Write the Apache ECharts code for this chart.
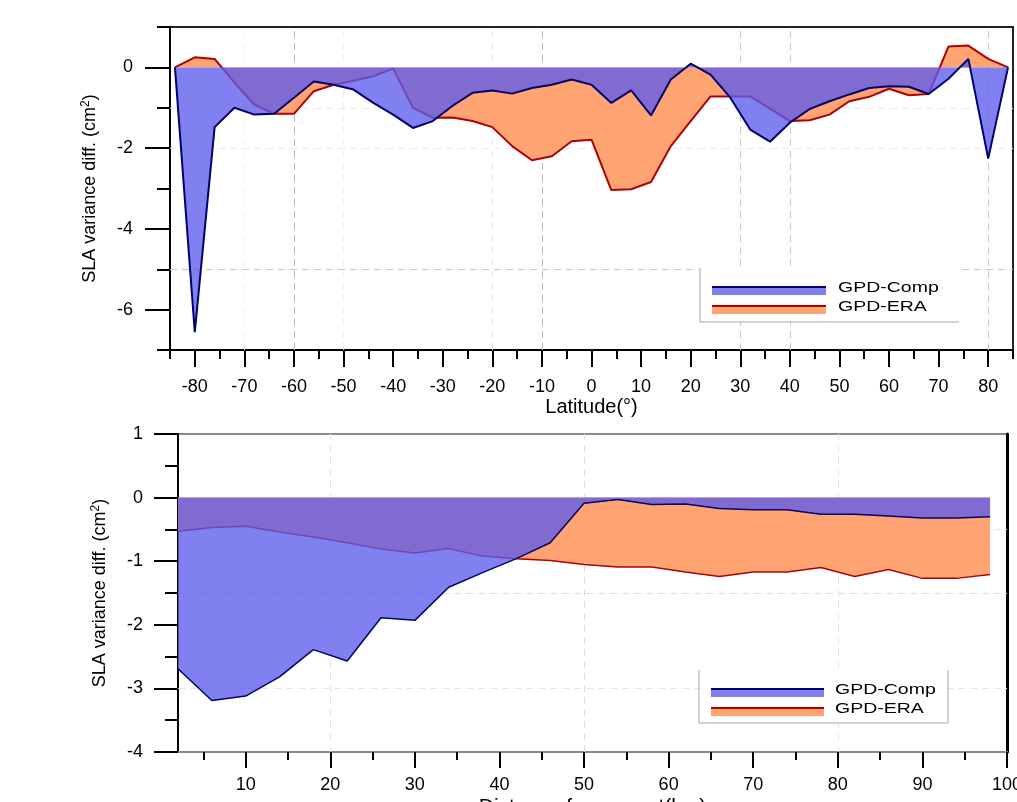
<!DOCTYPE html>
<html>
<head>
<meta charset="utf-8">
<title>SLA variance difference</title>
<script src="https://cdn.jsdelivr.net/npm/echarts@6.0.0/dist/echarts.min.js"></script>
<style>
  html, body { margin: 0; padding: 0; background: #fff; }
  #chart { width: 1017px; height: 802px; }
</style>
</head>
<body>
<div id="chart"></div>
<script>
// --- data ---
// top panel: latitude bins (deg)
const lat = [-84, -80, -76, -72, -68, -64, -60, -56, -52, -48, -44, -40, -36, -32, -28, -24, -20, -16, -12, -8, -4,
  0, 4, 8, 12, 16, 20, 24, 28, 32, 36, 40, 44, 48, 52, 56, 60, 64, 68, 72, 76, 80, 84];
const latComp = [0, -6.56, -1.48, -1.0, -1.17, -1.15, -0.75, -0.35, -0.43, -0.55, -0.88, -1.17, -1.5, -1.33, -0.95,
  -0.63, -0.57, -0.65, -0.51, -0.43, -0.30, -0.43, -0.88, -0.57, -1.19, -0.30, 0.09, -0.18, -0.75, -1.54, -1.84,
  -1.37, -1.03, -0.84, -0.67, -0.51, -0.47, -0.48, -0.66, -0.28, 0.21, -2.26, 0];
const latEra = [0, 0.25, 0.21, -0.38, -0.92, -1.15, -1.15, -0.59, -0.43, -0.33, -0.22, -0.03, -1.0, -1.25, -1.24,
  -1.33, -1.48, -1.95, -2.30, -2.20, -1.83, -1.79, -3.04, -3.02, -2.84, -1.95, -1.33, -0.72, -0.72, -0.72, -1.02,
  -1.33, -1.31, -1.17, -0.84, -0.73, -0.53, -0.69, -0.66, 0.52, 0.54, 0.21, 0];

// bottom panel: distance from coast (km)
const dist = [2, 6, 10, 14, 18, 22, 26, 30, 34, 38, 42, 46, 50, 54, 58, 62, 66, 70, 74, 78, 82, 86, 90, 94, 98];
const distComp = [-2.69, -3.19, -3.12, -2.82, -2.39, -2.57, -1.89, -1.93, -1.41, -1.18, -0.96, -0.71, -0.09, -0.03,
  -0.11, -0.10, -0.17, -0.19, -0.19, -0.26, -0.26, -0.29, -0.32, -0.32, -0.30];
const distEra = [-0.53, -0.47, -0.45, -0.54, -0.62, -0.71, -0.81, -0.87, -0.80, -0.92, -0.96, -0.99, -1.05, -1.09,
  -1.09, -1.17, -1.24, -1.17, -1.17, -1.10, -1.24, -1.13, -1.27, -1.27, -1.21];

// tick positions
const latMajorTicks = [-80, -70, -60, -50, -40, -30, -20, -10, 0, 10, 20, 30, 40, 50, 60, 70, 80];
const slaMajorTicksTop = [-6, -4, -2, 0];
const distMajorTicks = [10, 20, 30, 40, 50, 60, 70, 80, 90, 100];
const distMinorTicks = [5, 15, 25, 35, 45, 55, 65, 75, 85, 95];
const slaMajorTicksBottom = [-4, -3, -2, -1, 0, 1];

// dashed guide lines as they appear in the figure
const topGridX = [[-60, '#b8b8b8'], [-10, '#b8b8b8'], [30, '#c8c8c8'], [40, '#c8c8c8'], [80, '#c8c8c8'],
  [-70, '#efefef'], [-50, '#efefef'], [-20, '#e6e6e6']];
const topGridY = [[-5, '#c8c8c8'], [-1, '#ececec'], [-2, '#ececec']];
const botGridX = [[20, '#e2e2e2'], [50, '#dcdcdc'], [80, '#e2e2e2']];
const botGridY = [[-0.5, '#e6e6e6'], [-1.5, '#dcdcdc'], [-3, '#e6e6e6']];

const NAVY = '#00006e';
const RED = '#b00000';
const BLUE_FILL = 'rgba(92,92,236,0.78)';
const ORANGE_FILL = '#ffa472';
const FONT = "'Liberation Sans', Arial, sans-serif";

function pairs(xs, ys) { return xs.map(function (x, i) { return [x, ys[i]]; }); }

function guideSeries(xi, yi, gx, gy) {
  const lines = gx.map(function (g) { return { xAxis: g[0], lineStyle: { color: g[1] } }; })
    .concat(gy.map(function (g) { return { yAxis: g[0], lineStyle: { color: g[1] } }; }));
  return {
    type: 'line', xAxisIndex: xi, yAxisIndex: yi, data: [], z: 1, silent: true,
    markLine: {
      z: 1, silent: true, symbol: 'none', animation: false, label: { show: false },
      lineStyle: { type: [7, 5], width: 1 },
      data: lines
    }
  };
}

function areaSeries(xi, yi, data, lineColor, fill, w, z) {
  return {
    type: 'line', xAxisIndex: xi, yAxisIndex: yi, data: data, z: z,
    symbol: 'none', silent: true,
    lineStyle: { color: lineColor, width: w },
    areaStyle: { origin: 0, color: fill, opacity: 1 }
  };
}

// extra axes that only carry the long (major) ticks
function tickAxis(grid, pos, min, max, vals, len) {
  return {
    gridIndex: grid, type: 'value', position: pos, min: min, max: max,
    axisLine: { show: false, onZero: false },
    axisTick: { customValues: vals, length: len, lineStyle: { color: '#000', width: 2 } },
    axisLabel: { show: false }, splitLine: { show: false }
  };
}

// legend drawn by hand: line on top of a filled strip, like the original plot
function legendBox(x0, y0, x1, y1, border, sw0, sw1, rowY, textX) {
  const items = [
    { type: 'rect', z: 100, shape: { x: x0, y: y0, width: x1 - x0, height: y1 - y0 }, style: { fill: '#fff' } },
    { type: 'polyline', z: 101, shape: { points: border }, style: { stroke: '#a6a6a6', lineWidth: 1, fill: null } }
  ];
  [['GPD-Comp', NAVY, BLUE_FILL], ['GPD-ERA', RED, ORANGE_FILL]].forEach(function (e, i) {
    const y = rowY[i];
    items.push({ type: 'rect', z: 101, shape: { x: sw0, y: y, width: sw1 - sw0, height: 8 }, style: { fill: e[2] } });
    items.push({ type: 'line', z: 102, shape: { x1: sw0, y1: y, x2: sw1, y2: y }, style: { stroke: e[1], lineWidth: 2 } });
    items.push({ type: 'text', z: 102, x: textX, y: y + 1, scaleX: 1.3,
      style: { text: e[0], fontSize: 15, fontFamily: FONT, fill: '#000', verticalAlign: 'middle' } });
  });
  return items;
}

const sup = { sup: { fontSize: 12, verticalAlign: 'top', padding: [0, 0, 8, 0], fontFamily: FONT, color: '#000' } };
const yName = 'SLA variance diff. (cm{sup|2})';

const chart = echarts.init(document.getElementById('chart'), null, { renderer: 'canvas' });

chart.setOption({
  animation: false,
  backgroundColor: '#fff',
  textStyle: { fontFamily: FONT, color: '#000' },
  grid: [
    { left: 170, right: 4, top: 27, height: 323, outerBoundsMode: 'none', containLabel: false,
      show: true, borderColor: '#222', borderWidth: 2 },
    { left: 178, right: 10, top: 434, height: 318, outerBoundsMode: 'none', containLabel: false,
      show: true, borderColor: '#8a8a8a', borderWidth: 2 }
  ],
  xAxis: [
    {
      gridIndex: 0, type: 'value', position: 'bottom', min: -85, max: 85, interval: 5,
      axisLine: { onZero: false, lineStyle: { color: '#000', width: 2 } },
      axisTick: { length: 9, lineStyle: { color: '#000', width: 2 } },
      axisLabel: {
        margin: 28, fontSize: 18, color: '#000',
        formatter: function (v) { return v % 10 === 0 ? String(v) : ''; }
      },
      splitLine: { show: false },
      name: 'Latitude(°)', nameLocation: 'middle', nameGap: 47,
      nameTextStyle: { fontSize: 20, color: '#000' }
    },
    tickAxis(0, 'bottom', -85, 85, latMajorTicks, 17),
    {
      gridIndex: 1, type: 'value', position: 'bottom', min: 2, max: 100,
      axisLine: { onZero: false, lineStyle: { color: '#8a8a8a', width: 2 } },
      axisTick: { customValues: distMinorTicks, length: 8, lineStyle: { color: '#000', width: 2 } },
      axisLabel: { customValues: distMajorTicks, margin: 24, fontSize: 18, color: '#000' },
      splitLine: { show: false },
      name: 'Distance from coast(km)', nameLocation: 'middle', nameGap: 45,
      nameTextStyle: { fontSize: 21, color: '#000' }
    },
    tickAxis(1, 'bottom', 2, 100, distMajorTicks, 16)
  ],
  yAxis: [
    {
      gridIndex: 0, type: 'value', position: 'left', min: -7, max: 1, interval: 1,
      axisLine: { onZero: false, lineStyle: { color: '#000', width: 2 } },
      axisTick: { length: 13, lineStyle: { color: '#000', width: 2 } },
      axisLabel: {
        margin: 37, fontSize: 18, color: '#000',
        formatter: function (v) { return v % 2 === 0 ? String(v) : ''; }
      },
      splitLine: { show: false },
      name: yName, nameLocation: 'middle', nameGap: 70, nameRotate: 90,
      nameTextStyle: { fontSize: 18, color: '#000', rich: sup }
    },
    tickAxis(0, 'left', -7, 1, slaMajorTicksTop, 25),
    {
      gridIndex: 1, type: 'value', position: 'left', min: -4, max: 1, interval: 0.5,
      axisLine: { onZero: false, lineStyle: { color: '#000', width: 2 } },
      axisTick: { length: 13, lineStyle: { color: '#000', width: 2 } },
      axisLabel: {
        margin: 35, fontSize: 18, color: '#000',
        formatter: function (v) { return v % 1 === 0 ? String(v) : ''; }
      },
      splitLine: { show: false },
      name: yName, nameLocation: 'middle', nameGap: 68, nameRotate: 90,
      nameTextStyle: { fontSize: 18, color: '#000', rich: sup }
    },
    tickAxis(1, 'left', -4, 1, slaMajorTicksBottom, 24),
    {
      gridIndex: 1, type: 'value', position: 'right', min: -4, max: 1,
      axisLine: { onZero: false, lineStyle: { color: '#000', width: 3 } },
      axisTick: { show: false }, axisLabel: { show: false }, splitLine: { show: false }
    }
  ],
  series: [
    guideSeries(0, 0, topGridX, topGridY),
    areaSeries(0, 0, pairs(lat, latEra), RED, ORANGE_FILL, 2, 2),
    areaSeries(0, 0, pairs(lat, latComp), NAVY, BLUE_FILL, 2, 3),
    guideSeries(2, 2, botGridX, botGridY),
    areaSeries(2, 2, pairs(dist, distEra), RED, ORANGE_FILL, 1.5, 2),
    areaSeries(2, 2, pairs(dist, distComp), NAVY, BLUE_FILL, 1.5, 3)
  ],
  graphic: legendBox(700, 268, 959, 322, [[700, 268], [700, 322], [959, 322]], 712, 826, [287, 306], 838)
    .concat(legendBox(699, 670, 948, 723, [[699, 670], [699, 723], [948, 723], [948, 670]], 711, 824, [689, 708], 835))
});
</script>
</body>
</html>
